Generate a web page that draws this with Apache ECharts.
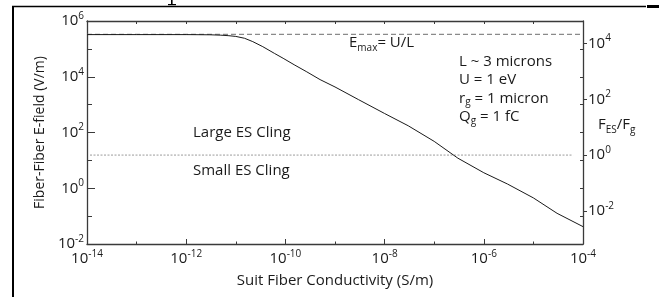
<!DOCTYPE html>
<html><head><meta charset="utf-8">
<script src="https://cdn.jsdelivr.net/npm/echarts@6/dist/echarts.min.js"></script>
<style>html,body{margin:0;padding:0;background:#fff}#c{width:659px;height:297px}</style>
</head><body><div id="c"></div>
<script>
// ---- data ----
const conductivity = [1e-14, 1e-13, 1e-12, 3e-12, 5e-12, 7e-12, 1e-11, 1.5e-11, 2.2e-11, 3.5e-11, 6e-11, 9e-11,
  1.5e-10, 2.7e-10, 5e-10, 1e-9, 3e-9, 1e-8, 3e-8, 1e-7, 3e-7, 1e-6, 3e-6, 1e-5, 3e-5, 1e-4];
const eField = [3.25e5, 3.25e5, 3.25e5, 3.2e5, 3.1e5, 2.98e5, 2.8e5, 2.4e5, 1.82e5, 1.2e5, 6.9e4, 4.6e4,
  2.7e4, 1.5e4, 7.9e3, 4.3e3, 1.5e3, 480, 174, 48, 12, 3.6, 1.42, 0.45, 0.126, 0.042];
const emaxValue = 3.33e5;               // U/L
const emaxRange = [1e-14, 1e-4];
const clingRatio = 1;                   // F_ES/F_g = 1
const clingRange = [1.15e-14, 6.3e-5];
const xTickExponents = [-14, -12, -10, -8, -6, -4];
const yTickExponents = [-2, 0, 2, 4, 6];
const rightTickExponents = [-2, 0, 2, 4];
const rightAxisExtent = [-3.19, 4.81];  // log10(F_ES/F_g) at bottom / top of the frame

const FONT = "'Open Sans', sans-serif";
const INK = '#1a1a1a';
const AX = '#3a3a3a';
const FS = 15;
const lg = Math.log10;

const mainData = conductivity.map((s, i) => [lg(s), lg(eField[i])]);
const emaxData = emaxRange.map(s => [lg(s), lg(emaxValue)]);
const clingData = clingRange.map(s => [lg(s), lg(clingRatio)]);

const rich = {
  b: {fontSize: FS, fontFamily: FONT, color: INK, lineHeight: 20},
  s: {fontSize: 10, fontFamily: FONT, color: INK, verticalAlign: 'top'}
};
const pow10 = v => '{b|10}{s|' + Math.round(v) + '}';
const subRich = {sub: {fontSize: 10, fontFamily: FONT, fill: INK, verticalAlign: 'bottom'}};

const chart = echarts.init(document.getElementById('c'), null, {renderer: 'canvas'});
chart.setOption({
  animation: false,
  backgroundColor: '#fff',
  grid: {left: 87, right: 76, top: 21, bottom: 53, containLabel: false},
  xAxis: [
    {type: 'value', position: 'bottom', min: xTickExponents[0], max: xTickExponents[xTickExponents.length - 1], interval: 2,
      axisLine: {show: true, onZero: false, lineStyle: {color: AX, width: 1.3}},
      axisTick: {show: true, inside: true, length: 5, lineStyle: {color: AX, width: 1}},
      minorTick: {show: true, splitNumber: 2, length: 2.5, lineStyle: {color: AX, width: 1}},
      splitLine: {show: false}, minorSplitLine: {show: false},
      axisLabel: {margin: 5, formatter: pow10, rich: rich},
      name: 'Suit Fiber Conductivity (S/m)', nameLocation: 'middle', nameGap: 29,
      nameTextStyle: {fontSize: FS, fontFamily: FONT, color: INK}},
    {type: 'value', position: 'top', min: -14, max: -4, interval: 1,
      axisLine: {show: true, onZero: false, lineStyle: {color: AX, width: 1.3}},
      axisTick: {show: true, inside: true, length: 3, lineStyle: {color: AX, width: 1}},
      axisLabel: {show: false}, splitLine: {show: false}}
  ],
  yAxis: [
    {type: 'value', position: 'left', min: yTickExponents[0], max: yTickExponents[yTickExponents.length - 1], interval: 2,
      axisLine: {show: true, onZero: false, lineStyle: {color: AX, width: 1.3}},
      axisTick: {show: true, inside: true, length: 8, lineStyle: {color: AX, width: 1}},
      minorTick: {show: true, splitNumber: 2, length: 5, lineStyle: {color: AX, width: 1}},
      splitLine: {show: false}, minorSplitLine: {show: false},
      axisLabel: {margin: 3, formatter: pow10, rich: rich},
      name: 'Fiber-Fiber E-field (V/m)', nameLocation: 'middle', nameGap: 31,
      nameTextStyle: {fontSize: 14, fontFamily: FONT, color: INK}},
    {type: 'value', position: 'right', min: -2, max: 6, interval: 1,
      axisLine: {show: true, onZero: false, lineStyle: {color: AX, width: 1.3}},
      axisTick: {show: true, inside: true, length: 3, lineStyle: {color: AX, width: 1}},
      axisLabel: {show: false}, splitLine: {show: false}},
    {type: 'value', position: 'right', min: rightAxisExtent[0], max: rightAxisExtent[1],
      axisLine: {show: false, onZero: false},
      axisTick: {show: true, inside: false, length: 4, customValues: rightTickExponents, lineStyle: {color: AX, width: 1}},
      axisLabel: {margin: 5, customValues: rightTickExponents, formatter: pow10, rich: rich},
      splitLine: {show: false}}
  ],
  series: [
    {type: 'line', name: 'Emax', xAxisIndex: 0, yAxisIndex: 0, data: emaxData, symbol: 'none',
      lineStyle: {color: '#8a8a8a', width: 1.2, type: [5, 3]}, z: 2},
    {type: 'line', name: 'Cling', xAxisIndex: 0, yAxisIndex: 2, data: clingData, symbol: 'none',
      lineStyle: {color: '#c6c6c6', width: 1.6, type: [2, 1.5]}, z: 2},
    {type: 'line', name: 'E-field', xAxisIndex: 0, yAxisIndex: 0, data: mainData, symbol: 'none',
      lineStyle: {color: INK, width: 1}, z: 3}
  ],
  graphic: [
    {type: 'line', shape: {x1: 13, y1: 6, x2: 13, y2: 297}, style: {stroke: '#000', lineWidth: 2}},
    {type: 'line', shape: {x1: 12, y1: 6.5, x2: 646, y2: 6.5}, style: {stroke: '#000', lineWidth: 1.6}},
    {type: 'rect', shape: {x: 647, y: 5, width: 12, height: 3}, style: {fill: '#000'}},
    {type: 'rect', shape: {x: 171, y: 0, width: 1.6, height: 5}, style: {fill: '#000'}},
    {type: 'rect', shape: {x: 168, y: 4, width: 8, height: 1.2}, style: {fill: '#000'}},
    {type: 'text', left: 349, top: 33, style: {text: 'E{sub|max}= U/L', fontSize: FS, fontFamily: FONT, fill: INK, lineHeight: 20, rich: subRich}},
    {type: 'text', left: 459, top: 52, style: {text: 'L ~ 3 microns\nU = 1 eV\nr{sub|g} = 1 micron\nQ{sub|g} = 1 fC',
      fontSize: FS, fontFamily: FONT, fill: INK, lineHeight: 18.5, rich: subRich}},
    {type: 'text', left: 193, top: 125, style: {text: 'Large ES Cling', fontSize: FS, fontFamily: FONT, fill: INK}},
    {type: 'text', left: 193, top: 163, style: {text: 'Small ES Cling', fontSize: FS, fontFamily: FONT, fill: INK}},
    {type: 'text', left: 598, top: 115, style: {text: 'F{sub|ES}/F{sub|g}', fontSize: FS, fontFamily: FONT, fill: INK, lineHeight: 20, rich: subRich}}
  ]
});
</script>
</body></html>
